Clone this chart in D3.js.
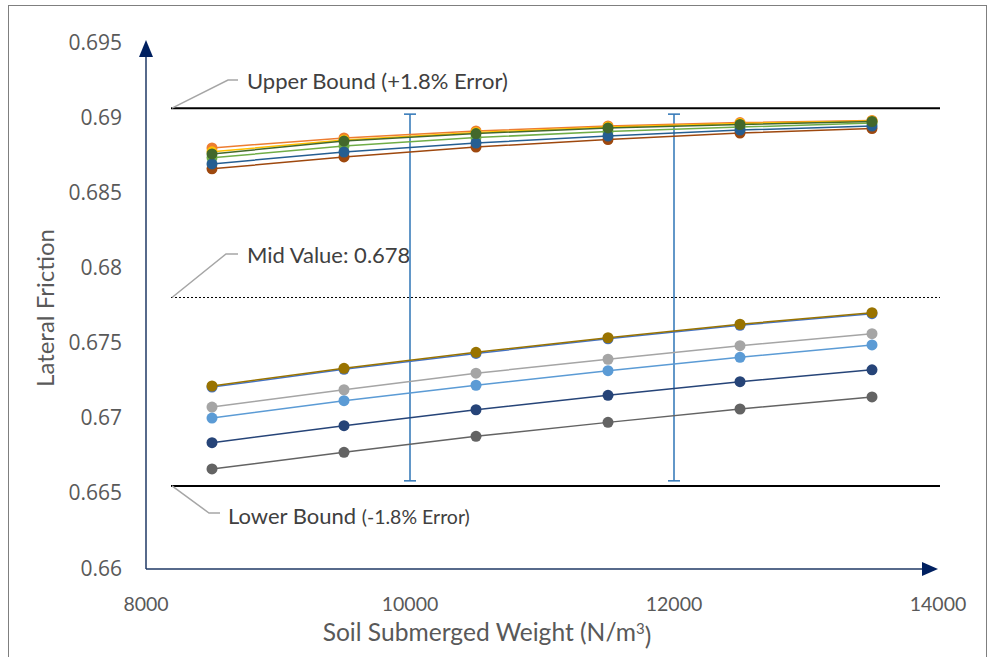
<!DOCTYPE html>
<html><head><meta charset="utf-8">
<script src="https://cdn.jsdelivr.net/npm/d3@7"></script>
<style>
body{margin:0;background:#fff;}
svg{display:block;}
</style></head>
<body>
<svg id="chart" width="990" height="657"></svg>
<script>
// ---- data ----
const xValues = [8500, 9500, 10500, 11500, 12500, 13500];
const xTicks = [8000, 10000, 12000, 14000];
const yTicks = [0.66, 0.665, 0.67, 0.675, 0.68, 0.685, 0.69, 0.695];
const yTickLabels = ["0.66", "0.665", "0.67", "0.675", "0.68", "0.685", "0.69", "0.695"];

// series in drawing order (later on top)
const sBlue      = [0.67204, 0.67322, 0.67428, 0.67525, 0.67615, 0.67692];
const sOrange    = [0.68795, 0.68862, 0.68908, 0.68941, 0.68964, 0.68978];
const sGray      = [0.67071, 0.67186, 0.67296, 0.67389, 0.67479, 0.67559];
const sYellow    = [0.68769, 0.68848, 0.68898, 0.68934, 0.68958, 0.68974];
const sLightBlue = [0.66998, 0.67113, 0.67216, 0.67313, 0.67402, 0.67484];
const sGreen     = [0.68729, 0.68808, 0.68864, 0.68904, 0.68934, 0.68961];
const sNavy      = [0.66834, 0.66947, 0.67053, 0.67149, 0.67240, 0.67319];
const sBrown     = [0.68656, 0.68735, 0.68801, 0.68851, 0.68894, 0.68924];
const sDarkGray  = [0.66659, 0.66770, 0.66876, 0.66969, 0.67058, 0.67138];
const sGold      = [0.67211, 0.67329, 0.67435, 0.67532, 0.67622, 0.67699];
const sSteel     = [0.68689, 0.68768, 0.68828, 0.68874, 0.68914, 0.68941];
const sDarkGreen = [0.68755, 0.68841, 0.68891, 0.68928, 0.68951, 0.68971];
const seriesList = [sBlue, sOrange, sGray, sYellow, sLightBlue, sGreen, sNavy, sBrown, sDarkGray, sGold, sSteel, sDarkGreen];
const seriesColors = ["#4472C4", "#ED7D31", "#A5A5A5", "#FFC000", "#5B9BD5", "#70AD47", "#264478", "#9E480E", "#636363", "#997300", "#255E91", "#43682B"];

const midValue = 0.678;
const upperBoundLine = 0.6906;
const lowerBoundLine = 0.66546;
const errorBarX = [10000, 12000];
const errorBarHigh = 0.69020;
const errorBarLow = 0.66580;

// ---- chart ----
const svg = d3.select("#chart");
const x = d3.scaleLinear().domain([8000, 14000]).range([146, 938]);
const y = d3.scaleLinear().domain([0.66, 0.695]).range([568, 42]);

svg.append("rect").attr("x", 8.5).attr("y", 5.5).attr("width", 978).attr("height", 670)
  .attr("fill", "#fff").attr("stroke", "#7f7f7f").attr("stroke-width", 1);

const tickFont = "'Open Sans', 'DejaVu Sans', sans-serif";
const titleFont = "Lato, 'Open Sans', sans-serif";

// y tick labels
svg.append("g").selectAll("text").data(yTicks).join("text")
  .attr("x", 122).attr("y", d => y(d)).attr("dy", "0.36em")
  .attr("text-anchor", "end").attr("font-family", tickFont).attr("font-size", 21)
  .attr("fill", "#595959").text((d, i) => yTickLabels[i]);

// x tick labels
svg.append("g").selectAll("text").data(xTicks).join("text")
  .attr("x", d => x(d)).attr("y", 604).attr("dy", "0.36em")
  .attr("text-anchor", "middle").attr("font-family", titleFont).attr("font-size", 19.5)
  .attr("fill", "#595959").text(d => d);

// axis titles
svg.append("text").attr("transform", "translate(45," + 308 + ") rotate(-90)")
  .attr("text-anchor", "middle").attr("dy", "0.36em")
  .attr("font-family", titleFont).attr("font-size", 24).attr("fill", "#595959")
  .text("Lateral Friction");
const xt = svg.append("text").attr("x", 487).attr("y", 632).attr("dy", "0.36em")
  .attr("text-anchor", "middle").attr("font-family", titleFont).attr("font-size", 24.6).attr("fill", "#595959");
xt.append("tspan").text("Soil Submerged Weight (N/m");
xt.append("tspan").attr("dy", "-0.45em").attr("font-size", 15).text("3");
xt.append("tspan").attr("dy", "0.45em").text(")");

// reference lines
const refX0 = 171, refX1 = 940;
svg.append("line").attr("x1", refX0).attr("x2", refX1).attr("y1", y(upperBoundLine)).attr("y2", y(upperBoundLine))
  .attr("stroke", "#000").attr("stroke-width", 2);
svg.append("line").attr("x1", refX0).attr("x2", refX1).attr("y1", y(lowerBoundLine)).attr("y2", y(lowerBoundLine))
  .attr("stroke", "#000").attr("stroke-width", 2);
svg.append("line").attr("x1", refX0).attr("x2", refX1).attr("y1", y(midValue)).attr("y2", y(midValue))
  .attr("stroke", "#000").attr("stroke-width", 1).attr("stroke-dasharray", "2,2");

// leaders & annotations
const leader = (pts) => svg.append("path").attr("d", d3.line()(pts)).attr("fill", "none")
  .attr("stroke", "#a6a6a6").attr("stroke-width", 1.5);
leader([[172, y(upperBoundLine)], [228, 80], [238, 80]]);
leader([[172, y(midValue)], [226, 254], [238, 254]]);
leader([[172, y(lowerBoundLine)], [209, 513], [220, 513]]);

svg.append("text").attr("x", 247).attr("y", 81).attr("dy", "0.36em")
  .attr("font-family", titleFont).attr("font-size", 22).attr("fill", "#404040")
  .text("Upper Bound (+1.8% Error)");
svg.append("text").attr("x", 247).attr("y", 255).attr("dy", "0.36em")
  .attr("font-family", titleFont).attr("font-size", 22).attr("fill", "#404040")
  .text("Mid Value: 0.678");
const lt = svg.append("text").attr("x", 228).attr("y", 516).attr("dy", "0.36em")
  .attr("font-family", titleFont).attr("font-size", 22).attr("fill", "#404040");
lt.append("tspan").text("Lower Bound ");
lt.append("tspan").attr("font-size", 19.5).text("(-1.8% Error)");

// error bars
const eb = svg.append("g").attr("stroke", "#2E75B6").attr("stroke-width", 1.5);
errorBarX.forEach(v => {
  eb.append("line").attr("x1", x(v)).attr("x2", x(v)).attr("y1", y(errorBarHigh)).attr("y2", y(errorBarLow));
  eb.append("line").attr("x1", x(v) - 6).attr("x2", x(v) + 6).attr("y1", y(errorBarHigh)).attr("y2", y(errorBarHigh));
  eb.append("line").attr("x1", x(v) - 6).attr("x2", x(v) + 6).attr("y1", y(errorBarLow)).attr("y2", y(errorBarLow));
});

// series
const line = d3.line().x((d, i) => x(xValues[i])).y(d => y(d));
seriesList.forEach((s, k) => {
  const g = svg.append("g");
  g.append("path").attr("d", line(s)).attr("fill", "none")
    .attr("stroke", seriesColors[k]).attr("stroke-width", 1.5);
  g.selectAll("circle").data(s).join("circle")
    .attr("cx", (d, i) => x(xValues[i])).attr("cy", d => y(d)).attr("r", 5.5)
    .attr("fill", seriesColors[k]);
});

// axes with arrows
const axisColor = "#1F3864";
svg.append("line").attr("x1", x(8000)).attr("x2", x(8000)).attr("y1", 569).attr("y2", 56)
  .attr("stroke", axisColor).attr("stroke-width", 1.5);
svg.append("path").attr("d", d3.line()([[x(8000) - 7, 57], [x(8000) + 7, 57], [x(8000), 40]])).attr("fill", "#002060");
svg.append("line").attr("x1", x(8000)).attr("x2", 924).attr("y1", 569).attr("y2", 569)
  .attr("stroke", axisColor).attr("stroke-width", 1.5);
svg.append("path").attr("d", d3.line()([[922, 562], [922, 576], [938, 569]])).attr("fill", "#002060");
</script>
</body></html>
